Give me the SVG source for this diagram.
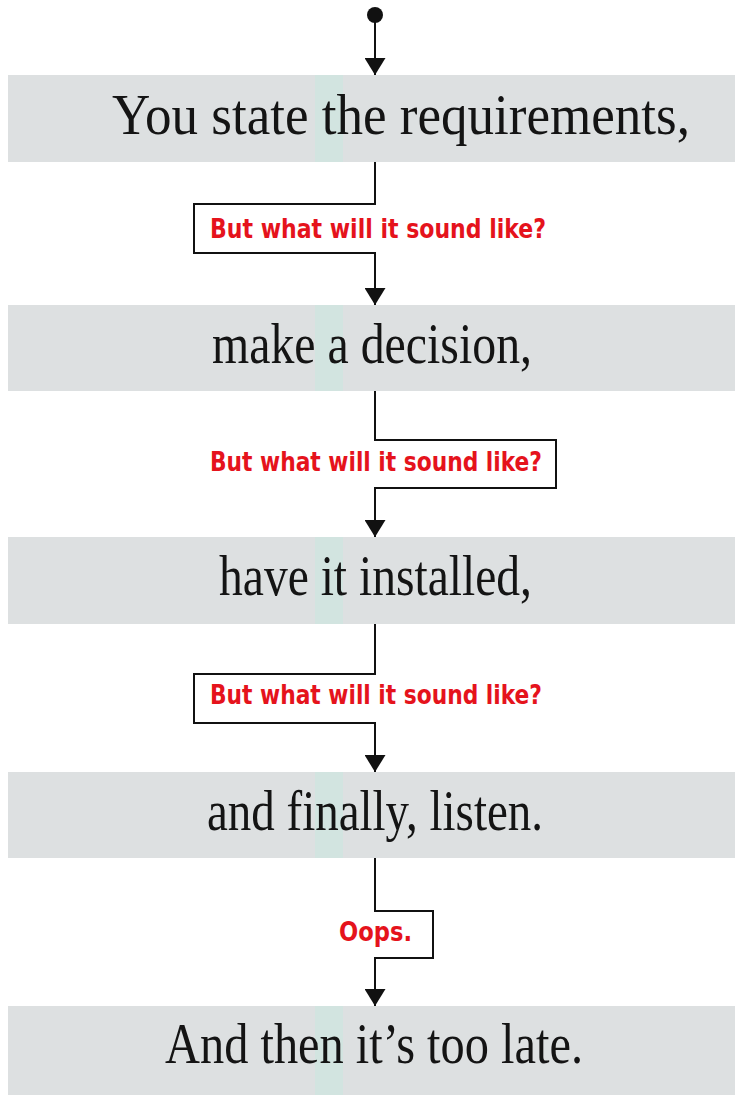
<svg xmlns="http://www.w3.org/2000/svg" width="735" height="1095" viewBox="0 0 735 1095">
  <style>
    .band{fill:#dde0e1}
    .stripe{fill:#d2e4e0}
    .main{font-family:"Liberation Serif","Times New Roman",serif;font-size:56px;fill:#141414}
    .note{font-family:"DejaVu Sans Condensed","DejaVu Sans",sans-serif;font-weight:bold;font-size:27px;fill:#e5131c}
    .conn{fill:none;stroke:#111;stroke-width:2}
  </style>
  <defs>
    <marker id="arrow" viewBox="0 0 17 21" refX="17" refY="10.5" markerWidth="17" markerHeight="21" markerUnits="userSpaceOnUse" orient="auto">
      <path d="M0,0 L17,10.5 L0,21 Z" fill="#111"/>
    </marker>
  </defs>

  <rect width="735" height="1095" fill="#ffffff"/>

  <g id="start">
    <circle cx="375" cy="15" r="8" fill="#111"/>
  </g>

  <g id="node1">
    <rect class="band" x="8" y="75" width="727" height="87"/>
    <rect class="stripe" x="315" y="75" width="28" height="87"/>
    <text class="main" x="112" y="134" textLength="578" lengthAdjust="spacingAndGlyphs">You state the requirements,</text>
  </g>

  <g id="node2">
    <rect class="band" x="8" y="305" width="727" height="86"/>
    <rect class="stripe" x="315" y="305" width="28" height="86"/>
    <text class="main" x="212" y="363" textLength="320" lengthAdjust="spacingAndGlyphs">make a decision,</text>
  </g>

  <g id="node3">
    <rect class="band" x="8" y="537" width="727" height="87"/>
    <rect class="stripe" x="315" y="537" width="28" height="87"/>
    <text class="main" x="219" y="595" textLength="313" lengthAdjust="spacingAndGlyphs">have it installed,</text>
  </g>

  <g id="node4">
    <rect class="band" x="8" y="772" width="727" height="86"/>
    <rect class="stripe" x="315" y="772" width="28" height="86"/>
    <text class="main" x="207" y="830" textLength="336" lengthAdjust="spacingAndGlyphs">and finally, listen.</text>
  </g>

  <g id="node5">
    <rect class="band" x="8" y="1006" width="727" height="89"/>
    <rect class="stripe" x="315" y="1006" width="28" height="89"/>
    <text class="main" x="165" y="1063" textLength="418" lengthAdjust="spacingAndGlyphs">And then it’s too late.</text>
  </g>

  <g id="connectors">
    <path class="conn" d="M375,15 V75" marker-end="url(#arrow)"/>
    <path class="conn" d="M375,162 V204 H194 V253 H375 V305" marker-end="url(#arrow)"/>
    <text class="note" x="210" y="238" textLength="336" lengthAdjust="spacingAndGlyphs">But what will it sound like?</text>
    <path class="conn" d="M375,391 V440 H556 V488 H375 V537" marker-end="url(#arrow)"/>
    <text class="note" x="210" y="471" textLength="332" lengthAdjust="spacingAndGlyphs">But what will it sound like?</text>
    <path class="conn" d="M375,624 V674 H194 V723 H375 V772" marker-end="url(#arrow)"/>
    <text class="note" x="210" y="704" textLength="332" lengthAdjust="spacingAndGlyphs">But what will it sound like?</text>
    <path class="conn" d="M375,858 V911 H433 V958 H375 V1006" marker-end="url(#arrow)"/>
    <text class="note" x="339" y="941" textLength="73" lengthAdjust="spacingAndGlyphs">Oops.</text>
  </g>
</svg>
